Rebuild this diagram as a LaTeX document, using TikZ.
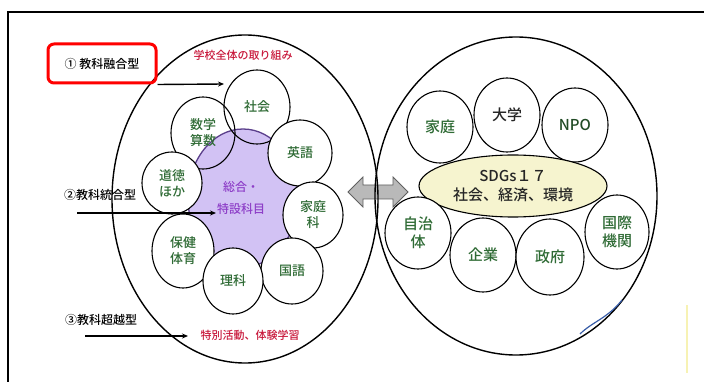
\documentclass[tikz,border=0pt]{standalone}
\usepackage{fontspec}
\setmainfont{Noto Sans CJK JP}[UprightFont={* Medium}]
\usetikzlibrary{shapes.geometric,arrows.meta}
\definecolor{subjgreen}{HTML}{2F6B35}
\definecolor{labred}{HTML}{C8173A}
\definecolor{blobfill}{HTML}{D2C2F4}
\definecolor{blobline}{HTML}{5B3F8C}
\definecolor{blobtext}{HTML}{8E3FC8}
\definecolor{sdgfill}{HTML}{F6F4CF}
\tikzset{
  big/.style={draw=black, line width=1.4pt, ellipse, inner sep=0pt},
  subj/.style={draw=black, line width=1.1pt, ellipse, inner sep=0pt, align=center,
    text=subjgreen, font=\fontsize{13}{16}\selectfont},
  wsubj/.style={subj, fill=white},
  rsubj/.style={subj, fill=white, font=\fontsize{15}{18}\selectfont},
  lab/.style={inner sep=0pt, font=\fontsize{12}{14}\selectfont},
  redlab/.style={inner sep=0pt, text=labred, font=\fontsize{11}{13}\selectfont},
  pointer/.style={line width=1.4pt, -{Stealth[length=6pt,width=5pt]}}
}
\begin{document}
\begin{tikzpicture}[x=1pt,y=-1pt]
\useasboundingbox (0,0) rectangle (704,382);
\fill[white] (0,0) rectangle (704,382);
% frame
\draw[line width=1.3pt] (8,382) -- (8,12) -- (704,12);
% gray double arrow
\draw[fill=gray!55, draw=gray!75!black, line width=0.8pt]
  (348,192) -- (363,177) -- (363,185) -- (393,185) -- (393,177) -- (408,192)
  -- (393,207) -- (393,199) -- (363,199) -- (363,207) -- cycle;
% big ellipses
\node[big, minimum width=266pt, minimum height=328pt] (left) at (245,199) {};
\node[big, minimum width=282pt, minimum height=318pt] (right) at (516,196) {};
% purple blob
\node[ellipse, fill=blobfill, draw=blobline, line width=1.3pt,
  minimum width=110pt, minimum height=138pt, inner sep=0pt] (blob) at (243,198) {};
% left subjects
\node[subj, minimum width=64pt, minimum height=72pt] (suu) at (203,133) {数学\\算数};
\node[subj, minimum width=66pt, minimum height=74pt] (sha) at (257,107) {社会};
\node[wsubj, minimum width=64pt, minimum height=66pt] (eig) at (300,153) {英語};
\node[wsubj, minimum width=60pt, minimum height=62pt] (dou) at (172,183) {道徳\\ほか};
\node[wsubj, minimum width=60pt, minimum height=66pt] (kat) at (313,215) {家庭\\科};
\node[wsubj, minimum width=62pt, minimum height=74pt] (hok) at (183,251) {保健\\体育};
\node[wsubj, minimum width=62pt, minimum height=66pt] (kok) at (292,271) {国語};
\node[wsubj, minimum width=60pt, minimum height=66pt] (rik) at (233,281) {理科};
\node[inner sep=0pt, align=center, text=blobtext, font=\fontsize{12}{22}\selectfont] (sog) at (241,198) {総合・\\特設科目};
% right members
\node[rsubj, minimum width=66pt, minimum height=72pt] (kaf) at (440,127) {家庭};
\node[rsubj, minimum width=66pt, minimum height=74pt, text=black!85] (dai) at (507,115) {大学};
\node[rsubj, minimum width=66pt, minimum height=74pt, text=subjgreen!70!black] (npo) at (575,125) {NPO};
\node[ellipse, draw=black, line width=1.1pt, fill=sdgfill, inner sep=0pt, align=center,
  text=black!85, minimum width=188pt, minimum height=62pt, font=\fontsize{15}{19}\selectfont] (sdg) at (513,186) {SDGs１７\\社会、経済、環境};
\node[rsubj, minimum width=66pt, minimum height=72pt] (jic) at (418,233) {自治\\体};
\node[rsubj, minimum width=66pt, minimum height=74pt] (kig) at (483,255) {企業};
\node[rsubj, minimum width=68pt, minimum height=76pt] (sei) at (550,257) {政府};
\node[rsubj, minimum width=64pt, minimum height=74pt] (kok2) at (617,232) {国際\\機関};
% labels
\node[draw=red, line width=3pt, rounded corners=6pt, minimum width=108pt, minimum height=39pt,
  inner sep=0pt, font=\fontsize{12}{14}\selectfont] (lab1) at (102,63.5) {① 教科融合型};
\node[redlab] (school) at (243,55) {学校全体の取り組み};
\node[lab] (lab2) at (100,195) {②教科統合型};
\node[lab] (lab3) at (101,320) {③教科超越型};
\node[redlab] (toku) at (250,335) {特別活動、体験学習};
% pointers
\coordinate (p1) at (224,84);
\coordinate (s2) at (77,213);
\coordinate (p2) at (216,213);
\coordinate (s3) at (85,336);
\coordinate (p3) at (188,336);
\draw[pointer] (lab1.south east) -- (p1);
\draw[pointer] (s2) -- (p2);
\draw[pointer] (s3) -- (p3);
% stray marks
\draw[line width=1.2pt, color={rgb,255:red,58;green,94;blue,168}] (580,334) .. controls (592,322) and (608,318) .. (622,300);
\draw[line width=1.5pt, color={rgb,255:red,247;green,242;blue,180}] (687,305) -- (687,373);
\end{tikzpicture}
\end{document}
